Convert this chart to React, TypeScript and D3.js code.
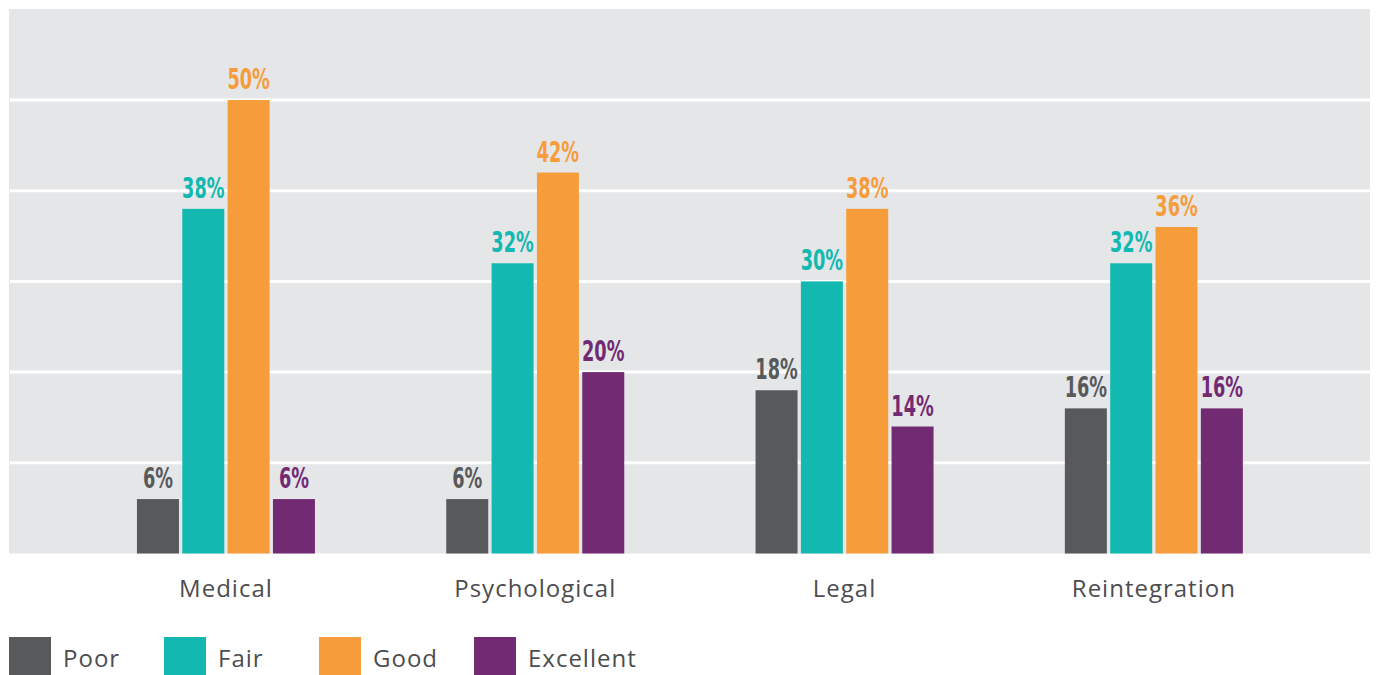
import React from "react";
import * as d3 from "d3";

const categories = ["Medical", "Psychological", "Legal", "Reintegration"];
const seriesNames = ["Poor", "Fair", "Good", "Excellent"];
const poor = [6, 6, 18, 16];
const fair = [38, 32, 30, 32];
const good = [50, 42, 38, 36];
const excellent = [6, 20, 14, 16];
const gridTicks = [10, 20, 30, 40, 50];
const colors = ["#58595b", "#13b9b0", "#f79c3a", "#722a73"];

const W = 1376;
const H = 675;
const plot = { left: 9, right: 1370, top: 9, bottom: 553.5 };

export default function App() {
  const series = [poor, fair, good, excellent];
  const y = d3.scaleLinear().domain([0, 60]).range([plot.bottom, plot.top + 0.3]);
  const x0 = d3.scaleBand().domain(categories).range([71.3, 1308.5]).padding(0);
  const x1 = d3.scaleBand().domain(seriesNames).range([-89, 89]).paddingInner(0.0735);
  const legendX = d3.scalePoint().domain(seriesNames).range([9, 474]);

  return (
    <svg
      width={W}
      height={H}
      style={{ position: "absolute", left: 0, top: 0, display: "block", background: "#fff" }}
    >
      <rect
        x={plot.left}
        y={plot.top}
        width={plot.right - plot.left}
        height={plot.bottom - plot.top}
        fill="#e5e6e8"
      />
      {gridTicks.map((t) => (
        <line
          key={t}
          x1={plot.left + 1}
          x2={plot.right}
          y1={y(t)}
          y2={y(t)}
          stroke="#ffffff"
          strokeWidth={3}
        />
      ))}
      {categories.map((c, ci) => {
        const cx = (x0(c) as number) + x0.bandwidth() / 2;
        return (
          <g key={c} transform={`translate(${cx},0)`}>
            {seriesNames.map((s, si) => {
              const v = series[si][ci];
              const bx = x1(s) as number;
              const bw = x1.bandwidth();
              return (
                <g key={s}>
                  <rect x={bx} y={y(v)} width={bw} height={y(0) - y(v)} fill={colors[si]} />
                  <text
                    transform={`translate(${bx + bw / 2},${y(v) - 11}) scale(0.68,1)`}
                    textAnchor="middle"
                    fontFamily="'Liberation Sans Narrow', 'DejaVu Sans Condensed', sans-serif"
                    fontWeight="bold"
                    fontSize={29}
                    fill={colors[si]}
                  >
                    {v}%
                  </text>
                </g>
              );
            })}
            <text
              x={0}
              y={597}
              textAnchor="middle"
              fontFamily="'Open Sans', sans-serif"
              fontSize={24}
              letterSpacing={1}
              fill="#4d4d4f"
            >
              {c}
            </text>
          </g>
        );
      })}
      {seriesNames.map((s, si) => {
        const lx = legendX(s) as number;
        return (
          <g key={s}>
            <rect x={lx} y={637} width={42} height={40} fill={colors[si]} />
            <text
              x={lx + 54}
              y={667}
              fontFamily="'Open Sans', sans-serif"
              fontSize={24}
              letterSpacing={1}
              fill="#4d4d4f"
            >
              {s}
            </text>
          </g>
        );
      })}
    </svg>
  );
}
